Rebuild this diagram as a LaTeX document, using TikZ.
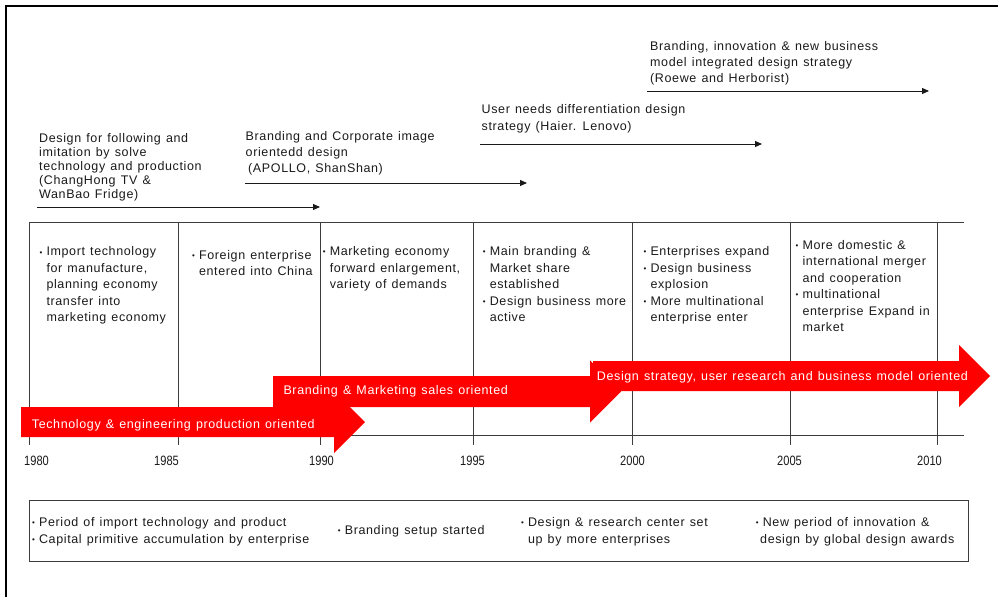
\documentclass[tikz,border=0pt]{standalone}
\usepackage{graphicx}
\usepackage{fontspec}
\newfontfamily\gul[LetterSpace=5,WordSpace=1.25]{Liberation Sans}
\newfontfamily\gulnum{Liberation Sans}
\usetikzlibrary{arrows.meta}

\definecolor{gridgray}{HTML}{3C3C3C}
\definecolor{arrowred}{HTML}{FF0000}
\definecolor{ink}{HTML}{1A1A1A}

% bullet, hanging indent and first-line strut
\newcommand\bul{\raisebox{0.8pt}{\fontsize{8}{8}\selectfont•}\hspace{4.2pt}}
\newcommand\ind{\hphantom{\bul}}
\newcommand\fl{\rule{0pt}{9.5pt}}

\tikzset{
  frame/.style={draw=black, line width=1.2pt},
  grid/.style={draw=gridgray, line width=0.9pt},
  strat/.style={draw=ink, line width=0.9pt, -{Triangle[length=7pt,width=6pt]}},
  band/.style={fill=arrowred},
  txt/.style={anchor=north west, inner sep=0pt, align=left, text=ink,
              font=\gul\fontsize{12.5}{16.5}\selectfont},
  bandlbl/.style={anchor=base west, inner sep=0pt, text=white,
              font=\gul\fontsize{12.5}{15}\selectfont},
  year/.style={anchor=base west, inner sep=0pt, text=ink,
              font=\gulnum\fontsize{13.5}{15}\selectfont},
}

\begin{document}
\begin{tikzpicture}[x=1pt,y=-1pt]
\useasboundingbox (0,0) rectangle (998,597);

% outer frame
\draw[frame] (6,597) -- (6,6) -- (998,6);

% timeline grid
\draw[grid] (29,222) -- (964,222);
\draw[grid] (29,435) -- (964,435);
\foreach \x in {29,178,320,473,632,790,937}
  \draw[grid] (\x,222) -- (\x,445);

% years
\foreach \x/\yr in {24/1980,154/1985,309/1990,460/1995,620/2000,777/2005,917/2010}
  \node[year] (y\yr) at (\x,465) {\scalebox{0.82}[1]{\yr}};

% design strategy labels and their spans
\node[txt, font=\gul\fontsize{12.5}{13.9}\selectfont] (s1) at (39,133)
  {\fl Design for following and\\imitation by solve\\technology and production\\(ChangHong TV \&\\WanBao Fridge)};
\coordinate (s1a) at (37,207); \coordinate (s1b) at (320,207);
\draw[strat] (s1a) -- (s1b);

\node[txt, font=\gul\fontsize{12.5}{16}\selectfont] (s2) at (245.5,131)
  {\fl Branding and Corporate image\\orientedd design\\\hspace*{2.5pt}(APOLLO, ShanShan)};
\coordinate (s2a) at (245,183); \coordinate (s2b) at (527,183);
\draw[strat] (s2a) -- (s2b);

\node[txt, font=\gul\fontsize{12.5}{17}\selectfont] (s3) at (481.5,103.5)
  {\fl User needs differentiation design\\strategy (Haier. Lenovo)};
\coordinate (s3a) at (480,144); \coordinate (s3b) at (762,144);
\draw[strat] (s3a) -- (s3b);

\node[txt, font=\gul\fontsize{12.5}{16}\selectfont] (s4) at (650,41)
  {\fl Branding, innovation \& new business\\model integrated design strategy\\(Roewe and Herborist)};
\coordinate (s4a) at (647,91); \coordinate (s4b) at (929,91);
\draw[strat] (s4a) -- (s4b);

% period notes
\node[txt] (c1) at (39.3,246.2)
  {\fl\bul Import technology\\\ind for manufacture,\\\ind planning economy\\\ind transfer into\\\ind marketing economy};
\node[txt] (c2) at (191.9,249.5)
  {\fl\bul Foreign enterprise\\\ind entered into China};
\node[txt] (c3) at (322.6,246)
  {\fl\bul Marketing economy\\\ind forward enlargement,\\\ind variety of demands};
\node[txt] (c4) at (482.6,246)
  {\fl\bul Main branding \&\\\ind Market share\\\ind established\\\bul Design business more\\\ind active};
\node[txt] (c5) at (643.3,246)
  {\fl\bul Enterprises expand\\\bul Design business\\\ind explosion\\\bul More multinational\\\ind enterprise enter};
\node[txt] (c6) at (795.3,239.5)
  {\fl\bul More domestic \&\\\ind international merger\\\ind and cooperation\\\bul multinational\\\ind enterprise Expand in\\\ind market};

% orientation bands
\fill[band] (21,407) -- (334,407) -- (334,391) -- (365,422) -- (334,453) -- (334,437) -- (21,437) -- cycle;
\fill[band] (273,376) -- (590,376) -- (590,360.5) -- (621,391.5) -- (590,422.5) -- (590,407) -- (273,407) -- cycle;
\fill[band] (593,361) -- (959,361) -- (959,345) -- (990,376) -- (959,407) -- (959,391) -- (593,391) -- cycle;
\node[bandlbl] (b1) at (31.7,428.3) {Technology \& engineering production oriented};
\node[bandlbl] (b2) at (283.3,394.3) {Branding \& Marketing sales oriented};
\node[bandlbl] (b3) at (596.7,380) {Design strategy, user research and business model oriented};

% milestone summary box
\draw[grid] (29,500) rectangle (968,561);
\node[txt] (m1) at (31.9,517)
  {\fl\bul Period of import technology and product\\\bul Capital primitive accumulation by enterprise};
\node[txt] (m2) at (337.6,524.5) {\fl\bul Branding setup started};
\node[txt] (m3) at (520.9,517)
  {\fl\bul Design \& research center set\\\ind up by more enterprises};
\node[txt] (m4) at (755.6,517)
  {\fl\bul New period of innovation \&\\\hspace*{4.4pt}design by global design awards};
\end{tikzpicture}
\end{document}
